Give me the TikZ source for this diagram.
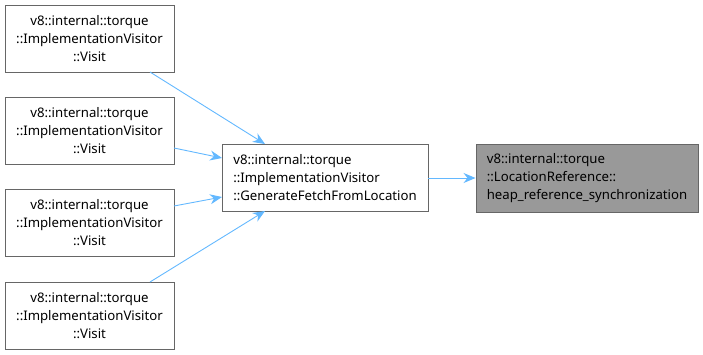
\documentclass[tikz,border=0pt]{standalone}
\usepackage{fontspec}
\setmainfont{Noto Sans}
\usetikzlibrary{arrows.meta}
\definecolor{edgeblue}{HTML}{63B8FF}
\definecolor{boxline}{HTML}{666666}
\definecolor{hlfill}{HTML}{999999}
\begin{document}
\begin{tikzpicture}[x=1pt,y=-1pt,
  fn/.style={draw=boxline, line width=0.9pt, fill=white, inner sep=0pt,
    font=\fontsize{13.2}{18}\selectfont},
  caller/.style={fn, align=center},
  leftfn/.style={fn, align=left},
  hl/.style={fn, align=left, fill=hlfill},
  call/.style={draw=edgeblue, line width=0.9pt,
    -{Stealth[length=12pt,width=10pt]}}]
\useasboundingbox (0,0) rectangle (703,354);
% callers on the left
\node[caller, minimum width=169, minimum height=67] (v1) at (89.5,38.5)
  {v8::internal::torque\\::ImplementationVisitor\\::Visit};
\node[caller, minimum width=169, minimum height=67] (v2) at (89.5,131)
  {v8::internal::torque\\::ImplementationVisitor\\::Visit};
\node[caller, minimum width=169, minimum height=67] (v3) at (89.5,223)
  {v8::internal::torque\\::ImplementationVisitor\\::Visit};
\node[caller, minimum width=169, minimum height=67] (v4) at (89.5,315.5)
  {v8::internal::torque\\::ImplementationVisitor\\::Visit};
% middle function
\node[leftfn, minimum width=206, minimum height=67] (gen) at (325,178)
  {v8::internal::torque\\::ImplementationVisitor\\::GenerateFetchFromLocation};
% highlighted function
\node[hl, minimum width=222, minimum height=68] (sync) at (587,178)
  {v8::internal::torque\\::LocationReference::\\heap\_reference\_synchronization};
% call edges
\draw[call] (150,72) -- (265,144);
\draw[call] (174,148) -- (222,158);
\draw[call] (174,206) -- (222,197);
\draw[call] (150,282) -- (265,211);
\draw[call] (gen.east) -- (sync.west);
\end{tikzpicture}
\end{document}
